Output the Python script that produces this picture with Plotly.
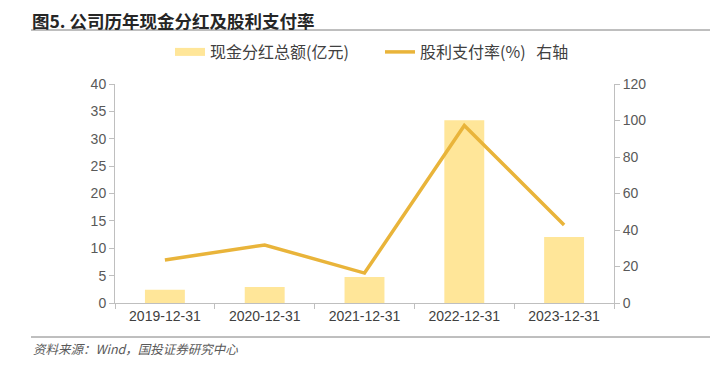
import plotly.graph_objects as go

categories = ["2019-12-31", "2020-12-31", "2021-12-31", "2022-12-31", "2023-12-31"]
dividends = [2.4, 2.9, 4.75, 33.4, 12.05]
payout = [23.6, 31.8, 16.4, 97.3, 42.7]
left_ticks = [0, 5, 10, 15, 20, 25, 30, 35, 40]
right_ticks = [0, 20, 40, 60, 80, 100, 120]

BAR = "#FFE699"
LINE = "#E9B43A"
GREY = "#595959"
AX = "#BFBFBF"
font_cjk = "Noto Sans CJK SC"
OFF = 8  # page body margin offset
L, T, PW, PH = 115 - OFF, 84 - OFF, 499, 219


def px(x):
    return (x - OFF - L) / PW


def py(y):
    return 1.0 - (y - OFF - T) / PH


fig = go.Figure()
fig.add_trace(go.Bar(x=categories, y=dividends, name="现金分红总额(亿元)",
                     marker=dict(color=BAR, line=dict(width=0)), width=0.4, yaxis="y",
                     showlegend=False, legendgroup="bar"))
fig.add_trace(go.Scatter(x=[None], y=[None], name="现金分红总额(亿元)", mode="lines",
                         line=dict(color=BAR, width=8), legendgroup="bar", yaxis="y"))
fig.add_trace(go.Scatter(x=categories, y=payout, name="股利支付率(%)   右轴", mode="lines",
                         line=dict(color=LINE, width=3.5), yaxis="y2"))

fig.update_layout(
    width=718, height=366,
    margin=dict(l=L, r=718 - L - PW, t=T, b=366 - T - PH, autoexpand=False),
    paper_bgcolor="white", plot_bgcolor="white",
    font=dict(family="Liberation Sans, Arial", size=13, color=GREY),
    showlegend=True,
    legend=dict(orientation="h", x=px(178 - 8), xanchor="left",
                y=py(52), yanchor="middle",
                font=dict(family=font_cjk, size=16, color="#404040"),
                itemwidth=30, traceorder="normal", bgcolor="rgba(0,0,0,0)",
                entrywidth=165, entrywidthmode="pixels"),
    xaxis=dict(type="category", showline=True, linecolor=AX, linewidth=1,
               ticks="outside", ticklen=5, tickcolor=AX, tickson="boundaries",
               tickfont=dict(family="Liberation Sans, Arial", size=14, color="#404040"),
               showgrid=False, zeroline=False),
    yaxis=dict(range=[0, 40], tickvals=left_ticks, showline=True, linecolor=AX, linewidth=1,
               ticks="outside", ticklen=5, tickcolor=AX, showgrid=False, zeroline=False,
               tickfont=dict(size=14, color=GREY)),
    yaxis2=dict(range=[0, 120], tickvals=right_ticks, overlaying="y", side="right",
                showline=True, linecolor=AX, linewidth=1, ticks="outside", ticklen=5,
                tickcolor=AX, showgrid=False, zeroline=False,
                tickfont=dict(size=14, color=GREY)),
)

fig.add_annotation(text="<b>图5. 公司历年现金分红及股利支付率</b>", xref="paper", yref="paper",
                   x=px(31), y=py(20), xanchor="left", yanchor="middle", borderpad=0,
                   showarrow=False, font=dict(family=font_cjk, size=17.5, color="#262626"))
fig.add_shape(type="line", xref="paper", yref="paper", x0=px(31), x1=px(726),
              y0=py(30), y1=py(30), line=dict(color="#7F7F7F", width=1))
fig.add_shape(type="line", xref="paper", yref="paper", x0=px(31), x1=px(726),
              y0=py(337), y1=py(337), line=dict(color="#7F7F7F", width=1))
fig.add_annotation(text="<i>资料来源：Wind，国投证券研究中心</i>", xref="paper", yref="paper",
                   x=px(31), y=py(348), xanchor="left", yanchor="middle",
                   showarrow=False, font=dict(family=font_cjk, size=12.5, color="#595959"))

fig.write_html("out.html")
